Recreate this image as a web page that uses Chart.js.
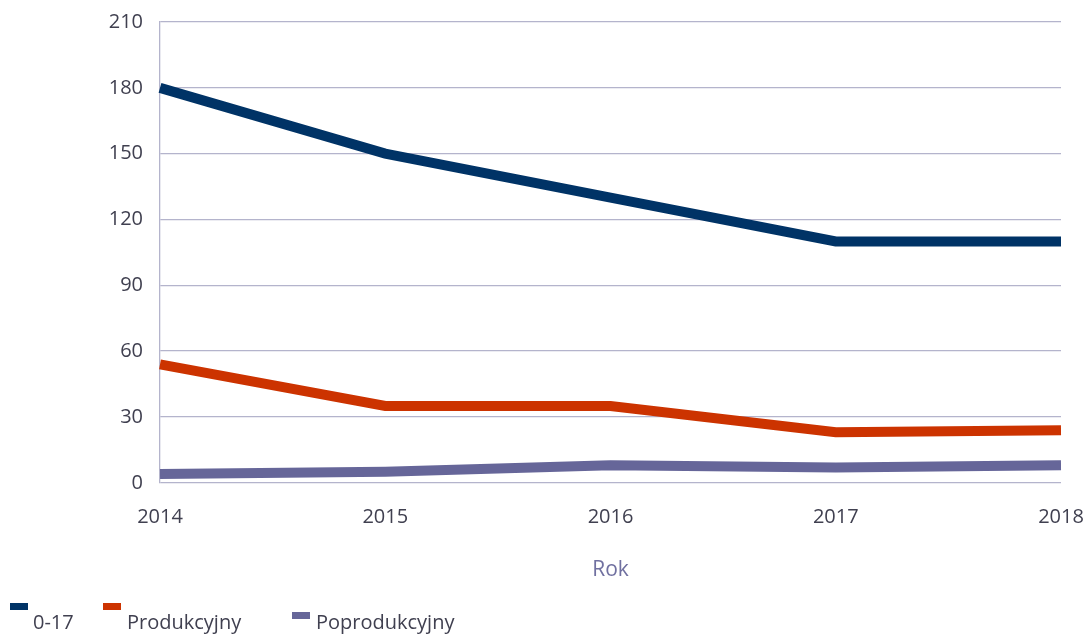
<!DOCTYPE html>
<html>
<head>
<meta charset="utf-8">
<script src="https://cdn.jsdelivr.net/npm/chart.js@4.4.1/dist/chart.umd.min.js"></script>
<style>
  html, body { margin: 0; padding: 0; background: #fff; }
  #wrap { position: relative; width: 1084px; height: 634px; }
  #legend { position: absolute; left: 0; top: 0; width: 1084px; height: 634px; pointer-events: none;
            font-family: 'Open Sans', sans-serif; font-size: 20px; color: #404050; }
  #legend .box { position: absolute; width: 18px; height: 7px; }
  #legend .txt { position: absolute; white-space: nowrap; line-height: 28px; }
</style>
</head>
<body>
<div id="wrap">
  <canvas id="chart" width="1084" height="634"></canvas>
  <div id="legend"></div>
</div>
<script>
const years = ["2014", "2015", "2016", "2017", "2018"];
const kids = [180, 150, 130, 110, 110];
const working = [54, 35, 35, 23, 24];
const retired = [4, 5, 8, 7, 8];
const yTicks = [0, 30, 60, 90, 120, 150, 180, 210];

const seriesNames = ["0-17", "Produkcyjny", "Poprodukcyjny"];
const seriesColors = ["#003366", "#cc3300", "#666699"];

const FONT = "'Open Sans', sans-serif";
const GRID = "#b4b4cc";

new Chart(document.getElementById("chart"), {
  type: "line",
  data: {
    labels: years,
    datasets: [
      { label: seriesNames[0], data: kids, borderColor: seriesColors[0] },
      { label: seriesNames[1], data: working, borderColor: seriesColors[1] },
      { label: seriesNames[2], data: retired, borderColor: seriesColors[2] }
    ].map(d => ({ ...d, borderWidth: 10, pointRadius: 0, tension: 0, fill: false, borderJoinStyle: "miter" }))
  },
  options: {
    responsive: false,
    animation: false,
    layout: { padding: { top: 22, right: 23, left: 0, bottom: 32 } },
    plugins: { legend: { display: false }, tooltip: { enabled: false } },
    scales: {
      x: {
        afterFit: s => { s.paddingLeft = 0; s.paddingRight = 0; },
        grid: { display: false, drawTicks: false },
        border: { display: false },
        ticks: { color: "#404050", font: { family: FONT, size: 20 }, padding: 22, maxRotation: 0 },
        title: { display: true, text: "Rok", color: "#7070a0", font: { family: FONT, size: 21 }, padding: { top: 7, bottom: 19 } }
      },
      y: {
        min: 0, max: 210,
        afterBuildTicks: s => { s.ticks = yTicks.map(v => ({ value: v })); },
        afterFit: s => { s.width = 160; s.paddingTop = 0; s.paddingBottom = 0; },
        grid: { color: GRID, lineWidth: 1.3, drawTicks: false },
        border: { display: true, color: GRID, width: 1.3 },
        ticks: { color: "#404050", font: { family: FONT, size: 20 }, padding: 17 }
      }
    }
  }
});

// legend laid out like the original: boxes sit above-left of the first two labels
const legendPos = [
  { bx: 10, by: 603, tx: 33 },
  { bx: 103, by: 603, tx: 127 },
  { bx: 292, by: 612, tx: 316 }
];
const lg = document.getElementById("legend");
seriesNames.forEach((n, i) => {
  const p = legendPos[i];
  const b = document.createElement("div");
  b.className = "box";
  b.style.left = p.bx + "px"; b.style.top = p.by + "px"; b.style.background = seriesColors[i];
  const t = document.createElement("div");
  t.className = "txt";
  t.style.left = p.tx + "px"; t.style.top = "608px";
  t.textContent = n;
  lg.appendChild(b); lg.appendChild(t);
});
</script>
</body>
</html>
